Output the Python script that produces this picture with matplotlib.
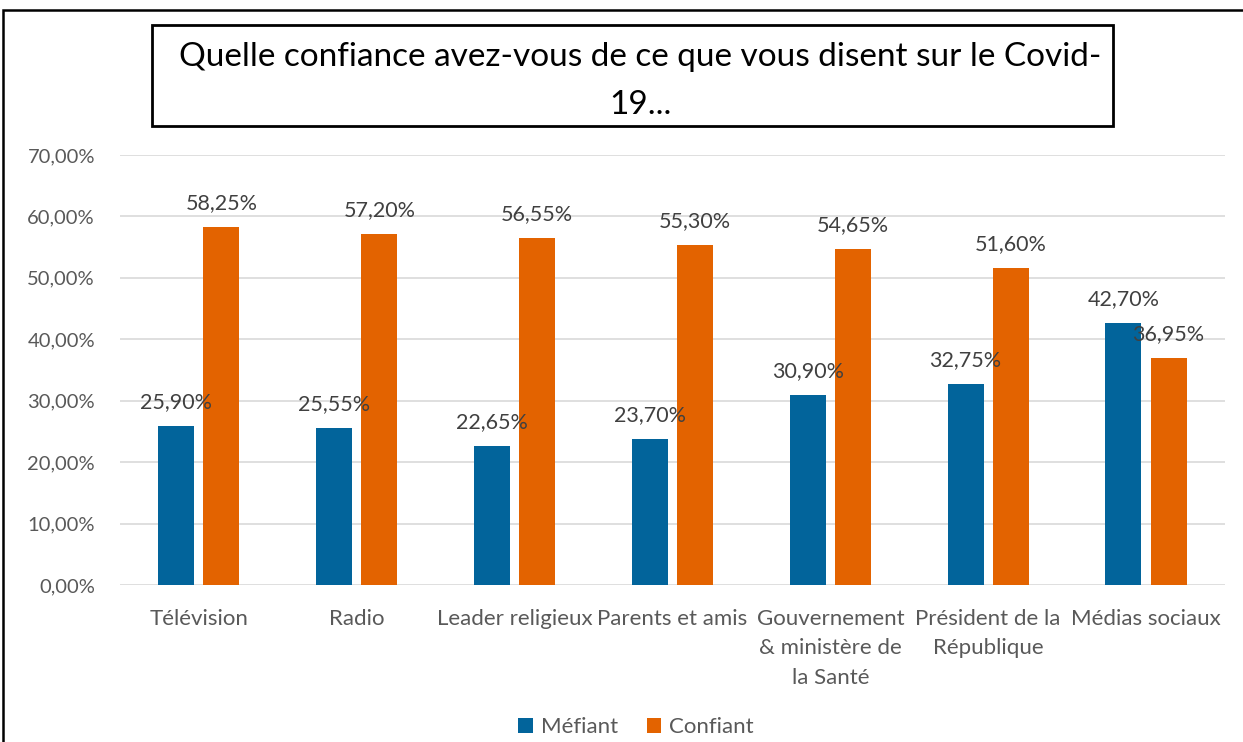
import matplotlib.pyplot as plt
from matplotlib.patches import Rectangle
import numpy as np

categories = ["Télévision", "Radio", "Leader religieux", "Parents et amis",
              "Gouvernement\n& ministère de\nla Santé", "Président de la\nRépublique",
              "Médias sociaux"]
mefiant = [25.90, 25.55, 22.65, 23.70, 30.90, 32.75, 42.70]
confiant = [58.25, 57.20, 56.55, 55.30, 54.65, 51.60, 36.95]
yticks = [0, 10, 20, 30, 40, 50, 60, 70]

plt.rcParams['font.family'] = ['Lato', 'DejaVu Sans']

fig = plt.figure(figsize=(12.43, 7.42), dpi=100)
ax = fig.add_axes([0.0965, 0.2116, 0.889, 0.5795])

x = np.arange(len(categories))
w = 0.228
off = 0.143
b1 = ax.bar(x - off, mefiant, w, color='#02649B', label='Méfiant', zorder=3)
b2 = ax.bar(x + off, confiant, w, color='#E36300', label='Confiant', zorder=3)

for bars, vals in ((b1, mefiant), (b2, confiant)):
    for r, v in zip(bars, vals):
        ax.annotate(f"{v:.2f}%".replace('.', ','),
                    (r.get_x() + r.get_width() / 2, v),
                    xytext=(0, 10), textcoords='offset points',
                    ha='center', va='bottom', fontsize=15.5, color='#404040')

ax.set_xlim(-0.5, len(categories) - 0.5)
ax.set_ylim(0, 70)
ax.set_yticks(yticks)
ax.set_yticklabels([f"{t:.2f}%".replace('.', ',') for t in yticks])
ax.set_xticks(x)
ax.set_xticklabels(categories, linespacing=1.6)
ax.tick_params(axis='both', length=0, colors='#595959')
ax.tick_params(axis='y', labelsize=14.5, pad=18)
ax.tick_params(axis='x', labelsize=16, pad=17)
ax.yaxis.grid(True, color='#d9d9d9', lw=1.2, zorder=0)
for s in ax.spines.values():
    s.set_visible(False)

fig.legend(handles=[b1, b2], loc='center', bbox_to_anchor=(636 / 1243, 1 - 727 / 742),
           ncol=2, frameon=False, fontsize=16, handlelength=0.65, handleheight=0.65,
           handletextpad=0.35, columnspacing=1.3, labelcolor='#595959')

# outer frame and title box
fig.patches.append(Rectangle((3 / 1243, -0.1), 1.2, 1 - 10 / 742 + 0.1,
                             transform=fig.transFigure, fill=False,
                             lw=1.8, ec='black'))
fig.patches.append(Rectangle((152 / 1243, 1 - 126 / 742), 961 / 1243, 101 / 742,
                             transform=fig.transFigure, fill=False,
                             lw=2, ec='black'))
fig.text(640 / 1243, 1 - 81 / 742,
         "Quelle confiance avez-vous de ce que vous disent sur le Covid-\n19...",
         ha='center', va='center', fontsize=24, linespacing=1.78)

fig.savefig('out.png', dpi=100)
